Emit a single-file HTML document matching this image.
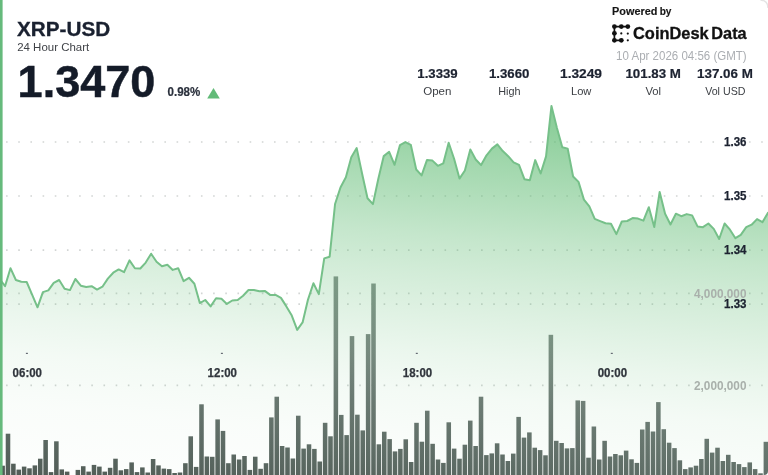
<!DOCTYPE html>
<html><head><meta charset="utf-8"><title>XRP-USD</title>
<style>
html,body{margin:0;padding:0;background:#fff;}
body{width:768px;height:475px;overflow:hidden;font-family:"Liberation Sans",sans-serif;}
svg{display:block;filter:blur(0.5px);font-family:"Liberation Sans",sans-serif;}
</style></head>
<body>
<svg width="788" height="495" viewBox="-10 -10 788 495" style="margin:-10px 0 0 -10px">
<defs>
<linearGradient id="ag" gradientUnits="userSpaceOnUse" x1="551.0" y1="98.3" x2="509.3" y2="531.3">
<stop offset="0.0000" stop-color="#5cba70" stop-opacity="0.76"/>
<stop offset="0.0828" stop-color="#5cba70" stop-opacity="0.675"/>
<stop offset="0.1724" stop-color="#5cba70" stop-opacity="0.56"/>
<stop offset="0.2552" stop-color="#5cba70" stop-opacity="0.46"/>
<stop offset="0.3379" stop-color="#5cba70" stop-opacity="0.36"/>
<stop offset="0.4253" stop-color="#5cba70" stop-opacity="0.275"/>
<stop offset="0.5195" stop-color="#5cba70" stop-opacity="0.195"/>
<stop offset="0.6069" stop-color="#5cba70" stop-opacity="0.125"/>
<stop offset="0.6989" stop-color="#5cba70" stop-opacity="0.07"/>
<stop offset="0.8161" stop-color="#5cba70" stop-opacity="0.035"/>
<stop offset="1.0000" stop-color="#5cba70" stop-opacity="0.01"/>
</linearGradient>
<linearGradient id="bg" gradientUnits="userSpaceOnUse" x1="336.0" y1="273.5" x2="314.0" y2="502.4">
<stop offset="0.0000" stop-color="rgb(134, 144, 140)"/>
<stop offset="0.0609" stop-color="rgb(132, 142, 138)"/>
<stop offset="0.3217" stop-color="rgb(122, 132, 128)"/>
<stop offset="0.5478" stop-color="rgb(106, 117, 113)"/>
<stop offset="0.7826" stop-color="rgb(93, 105, 100)"/>
<stop offset="1.0000" stop-color="rgb(82, 92, 87)"/>
</linearGradient>
</defs>
<rect x="-10" y="-10" width="788" height="495" fill="#ffffff"/>
<!-- grid -->
<g stroke="#d2d5d4" stroke-width="1.7" stroke-dasharray="1.6 10.58" fill="none">
<line x1="6.04" x2="716" y1="142.0" y2="142.0"/><line x1="749.0" x2="780" y1="142.0" y2="142.0"/>
<line x1="6.04" x2="716" y1="196.0" y2="196.0"/><line x1="749.0" x2="780" y1="196.0" y2="196.0"/>
<line x1="6.04" x2="716" y1="250.1" y2="250.1"/><line x1="749.0" x2="780" y1="250.1" y2="250.1"/>
<line x1="6.04" x2="716" y1="304.1" y2="304.1"/><line x1="749.0" x2="780" y1="304.1" y2="304.1"/>
<line x1="6.04" x2="691.5" y1="293.4" y2="293.4"/><line x1="749.0" x2="780" y1="293.4" y2="293.4"/>
<line x1="6.04" x2="691.5" y1="385.4" y2="385.4"/><line x1="749.0" x2="780" y1="385.4" y2="385.4"/>
</g>
<!-- volume bars -->
<g fill="url(#bg)">
<rect x="0.35" y="465.70" width="4.55" height="21.30"/>
<rect x="5.72" y="433.70" width="4.55" height="53.30"/>
<rect x="11.10" y="463.70" width="4.55" height="23.30"/>
<rect x="16.48" y="469.60" width="4.55" height="17.40"/>
<rect x="21.85" y="466.60" width="4.55" height="20.40"/>
<rect x="27.23" y="468.30" width="4.55" height="18.70"/>
<rect x="32.60" y="465.40" width="4.55" height="21.60"/>
<rect x="37.98" y="458.70" width="4.55" height="28.30"/>
<rect x="43.35" y="440.00" width="4.55" height="47.00"/>
<rect x="48.73" y="472.10" width="4.55" height="14.90"/>
<rect x="54.10" y="441.30" width="4.55" height="45.70"/>
<rect x="59.48" y="469.40" width="4.55" height="17.60"/>
<rect x="64.85" y="471.60" width="4.55" height="15.40"/>
<rect x="75.60" y="469.90" width="4.55" height="17.10"/>
<rect x="80.97" y="466.20" width="4.55" height="20.80"/>
<rect x="86.35" y="471.60" width="4.55" height="15.40"/>
<rect x="91.72" y="464.90" width="4.55" height="22.10"/>
<rect x="97.10" y="466.60" width="4.55" height="20.40"/>
<rect x="102.47" y="471.60" width="4.55" height="15.40"/>
<rect x="107.85" y="467.80" width="4.55" height="19.20"/>
<rect x="113.22" y="458.70" width="4.55" height="28.30"/>
<rect x="118.60" y="470.30" width="4.55" height="16.70"/>
<rect x="123.97" y="469.10" width="4.55" height="17.90"/>
<rect x="129.35" y="462.40" width="4.55" height="24.60"/>
<rect x="134.72" y="472.10" width="4.55" height="14.90"/>
<rect x="140.10" y="467.40" width="4.55" height="19.60"/>
<rect x="145.47" y="472.50" width="4.55" height="14.50"/>
<rect x="150.85" y="459.00" width="4.55" height="28.00"/>
<rect x="156.22" y="465.40" width="4.55" height="21.60"/>
<rect x="161.60" y="468.60" width="4.55" height="18.40"/>
<rect x="166.97" y="469.10" width="4.55" height="17.90"/>
<rect x="172.35" y="473.00" width="4.55" height="14.00"/>
<rect x="177.72" y="472.50" width="4.55" height="14.50"/>
<rect x="183.10" y="463.20" width="4.55" height="23.80"/>
<rect x="188.47" y="436.30" width="4.55" height="50.70"/>
<rect x="193.85" y="466.90" width="4.55" height="20.10"/>
<rect x="199.22" y="404.30" width="4.55" height="82.70"/>
<rect x="204.60" y="456.50" width="4.55" height="30.50"/>
<rect x="209.97" y="456.80" width="4.55" height="30.20"/>
<rect x="215.35" y="419.40" width="4.55" height="67.60"/>
<rect x="220.72" y="430.90" width="4.55" height="56.10"/>
<rect x="226.10" y="463.20" width="4.55" height="23.80"/>
<rect x="231.47" y="454.50" width="4.55" height="32.50"/>
<rect x="236.85" y="459.50" width="4.55" height="27.50"/>
<rect x="242.22" y="456.00" width="4.55" height="31.00"/>
<rect x="247.60" y="469.90" width="4.55" height="17.10"/>
<rect x="252.97" y="456.70" width="4.55" height="30.30"/>
<rect x="258.35" y="468.80" width="4.55" height="18.20"/>
<rect x="263.73" y="463.20" width="4.55" height="23.80"/>
<rect x="269.10" y="417.40" width="4.55" height="69.60"/>
<rect x="274.48" y="396.70" width="4.55" height="90.30"/>
<rect x="279.85" y="446.00" width="4.55" height="41.00"/>
<rect x="285.23" y="447.50" width="4.55" height="39.50"/>
<rect x="290.60" y="458.50" width="4.55" height="28.50"/>
<rect x="295.98" y="415.70" width="4.55" height="71.30"/>
<rect x="301.35" y="448.60" width="4.55" height="38.40"/>
<rect x="306.73" y="444.30" width="4.55" height="42.70"/>
<rect x="312.10" y="448.90" width="4.55" height="38.10"/>
<rect x="317.48" y="461.50" width="4.55" height="25.50"/>
<rect x="322.85" y="422.80" width="4.55" height="64.20"/>
<rect x="328.23" y="436.30" width="4.55" height="50.70"/>
<rect x="333.60" y="276.40" width="4.55" height="210.60"/>
<rect x="338.98" y="414.90" width="4.55" height="72.10"/>
<rect x="344.35" y="435.10" width="4.55" height="51.90"/>
<rect x="349.73" y="336.10" width="4.55" height="150.90"/>
<rect x="355.10" y="414.70" width="4.55" height="72.30"/>
<rect x="360.48" y="430.40" width="4.55" height="56.60"/>
<rect x="365.85" y="334.10" width="4.55" height="152.90"/>
<rect x="371.23" y="283.50" width="4.55" height="203.50"/>
<rect x="376.60" y="444.30" width="4.55" height="42.70"/>
<rect x="381.98" y="431.70" width="4.55" height="55.30"/>
<rect x="387.35" y="439.10" width="4.55" height="47.90"/>
<rect x="392.73" y="451.40" width="4.55" height="35.60"/>
<rect x="398.10" y="448.90" width="4.55" height="38.10"/>
<rect x="403.48" y="439.30" width="4.55" height="47.70"/>
<rect x="408.85" y="462.00" width="4.55" height="25.00"/>
<rect x="414.23" y="422.80" width="4.55" height="64.20"/>
<rect x="419.60" y="441.70" width="4.55" height="45.30"/>
<rect x="424.98" y="410.70" width="4.55" height="76.30"/>
<rect x="430.35" y="443.80" width="4.55" height="43.20"/>
<rect x="435.73" y="459.50" width="4.55" height="27.50"/>
<rect x="441.10" y="462.90" width="4.55" height="24.10"/>
<rect x="446.48" y="422.30" width="4.55" height="64.70"/>
<rect x="451.85" y="448.60" width="4.55" height="38.40"/>
<rect x="457.23" y="458.70" width="4.55" height="28.30"/>
<rect x="462.60" y="444.70" width="4.55" height="42.30"/>
<rect x="467.98" y="420.60" width="4.55" height="66.40"/>
<rect x="473.35" y="446.00" width="4.55" height="41.00"/>
<rect x="478.73" y="396.70" width="4.55" height="90.30"/>
<rect x="484.10" y="455.10" width="4.55" height="31.90"/>
<rect x="489.48" y="453.40" width="4.55" height="33.60"/>
<rect x="494.85" y="443.30" width="4.55" height="43.70"/>
<rect x="500.23" y="454.50" width="4.55" height="32.50"/>
<rect x="505.60" y="461.00" width="4.55" height="26.00"/>
<rect x="510.98" y="453.60" width="4.55" height="33.40"/>
<rect x="516.35" y="416.90" width="4.55" height="70.10"/>
<rect x="521.73" y="437.60" width="4.55" height="49.40"/>
<rect x="527.10" y="432.40" width="4.55" height="54.60"/>
<rect x="532.48" y="447.70" width="4.55" height="39.30"/>
<rect x="537.85" y="450.10" width="4.55" height="36.90"/>
<rect x="543.23" y="455.30" width="4.55" height="31.70"/>
<rect x="548.60" y="334.80" width="4.55" height="152.20"/>
<rect x="553.98" y="440.80" width="4.55" height="46.20"/>
<rect x="559.35" y="443.00" width="4.55" height="44.00"/>
<rect x="564.73" y="448.40" width="4.55" height="38.60"/>
<rect x="570.10" y="448.10" width="4.55" height="38.90"/>
<rect x="575.48" y="400.40" width="4.55" height="86.60"/>
<rect x="580.85" y="400.90" width="4.55" height="86.10"/>
<rect x="586.23" y="457.70" width="4.55" height="29.30"/>
<rect x="591.60" y="426.50" width="4.55" height="60.50"/>
<rect x="596.98" y="459.50" width="4.55" height="27.50"/>
<rect x="602.35" y="440.80" width="4.55" height="46.20"/>
<rect x="607.73" y="456.50" width="4.55" height="30.50"/>
<rect x="613.10" y="454.00" width="4.55" height="33.00"/>
<rect x="618.48" y="455.30" width="4.55" height="31.70"/>
<rect x="623.85" y="450.60" width="4.55" height="36.40"/>
<rect x="629.23" y="459.30" width="4.55" height="27.70"/>
<rect x="634.60" y="462.90" width="4.55" height="24.10"/>
<rect x="639.98" y="429.50" width="4.55" height="57.50"/>
<rect x="645.35" y="421.90" width="4.55" height="65.10"/>
<rect x="650.73" y="431.50" width="4.55" height="55.50"/>
<rect x="656.10" y="402.10" width="4.55" height="84.90"/>
<rect x="661.48" y="429.20" width="4.55" height="57.80"/>
<rect x="666.85" y="442.70" width="4.55" height="44.30"/>
<rect x="672.23" y="448.10" width="4.55" height="38.90"/>
<rect x="677.60" y="460.30" width="4.55" height="26.70"/>
<rect x="682.98" y="469.10" width="4.55" height="17.90"/>
<rect x="688.35" y="467.40" width="4.55" height="19.60"/>
<rect x="693.73" y="465.70" width="4.55" height="21.30"/>
<rect x="699.10" y="459.00" width="4.55" height="28.00"/>
<rect x="704.48" y="438.80" width="4.55" height="48.20"/>
<rect x="709.85" y="452.60" width="4.55" height="34.40"/>
<rect x="715.23" y="447.70" width="4.55" height="39.30"/>
<rect x="720.60" y="461.00" width="4.55" height="26.00"/>
<rect x="725.98" y="454.80" width="4.55" height="32.20"/>
<rect x="731.35" y="462.00" width="4.55" height="25.00"/>
<rect x="736.73" y="464.10" width="4.55" height="22.90"/>
<rect x="742.10" y="467.10" width="4.55" height="19.90"/>
<rect x="747.48" y="462.40" width="4.55" height="24.60"/>
<rect x="752.85" y="469.10" width="4.55" height="17.90"/>
<rect x="758.23" y="473.30" width="4.55" height="13.70"/>
<rect x="763.60" y="441.80" width="4.55" height="45.20"/>
</g>
<!-- area -->
<path d="M-0.36 279.00 L5.05 286.20 L10.46 268.20 L15.87 280.00 L21.28 281.70 L26.69 282.00 L32.10 294.60 L37.51 307.30 L42.92 292.10 L48.33 290.40 L53.74 282.80 L59.15 280.00 L64.56 288.70 L69.97 290.10 L75.38 279.00 L80.79 285.70 L86.20 287.00 L91.61 286.20 L97.02 289.60 L102.43 286.70 L107.84 278.60 L113.25 272.70 L118.66 269.40 L124.07 272.20 L129.48 260.40 L134.89 268.20 L140.30 268.50 L145.71 262.60 L151.12 253.70 L156.53 261.80 L161.94 266.30 L167.35 264.80 L172.76 269.90 L178.17 268.20 L183.58 281.20 L188.99 277.80 L194.40 283.70 L199.81 303.10 L205.22 300.00 L210.63 306.40 L216.04 298.30 L221.45 298.80 L226.86 303.90 L232.27 300.50 L237.68 300.00 L243.09 295.70 L248.50 290.00 L253.91 290.00 L259.32 291.20 L264.73 290.90 L270.14 294.90 L275.55 294.90 L280.96 297.90 L286.37 306.40 L291.78 315.60 L297.19 329.90 L302.60 322.40 L308.01 299.60 L313.42 283.30 L318.83 294.10 L324.24 258.40 L329.65 256.70 L335.06 204.00 L340.47 187.50 L345.88 177.30 L351.29 157.20 L356.70 148.10 L362.11 173.70 L367.52 198.20 L372.93 204.10 L378.34 178.80 L383.75 156.10 L389.16 151.80 L394.57 164.80 L399.98 145.10 L405.39 142.10 L410.80 144.80 L416.21 169.50 L421.62 175.40 L427.03 159.90 L432.44 160.60 L437.85 165.80 L443.26 163.40 L448.67 142.70 L454.08 158.70 L459.49 178.60 L464.90 170.50 L470.31 149.40 L475.72 159.50 L481.13 165.10 L486.54 155.30 L491.95 148.60 L497.36 144.40 L502.77 151.10 L508.18 156.20 L513.59 162.40 L519.00 164.90 L524.41 179.20 L529.82 180.20 L535.23 160.10 L540.64 173.50 L546.05 156.40 L551.46 105.90 L556.87 127.80 L562.28 147.20 L567.69 148.60 L573.10 176.50 L578.51 181.90 L583.92 199.60 L589.33 206.30 L594.74 218.90 L600.15 221.10 L605.56 223.20 L610.97 223.70 L616.38 234.10 L621.79 221.50 L627.20 221.00 L632.61 218.10 L638.02 218.60 L643.43 220.60 L648.84 207.20 L654.25 227.00 L659.66 191.90 L665.07 213.80 L670.48 224.50 L675.89 213.70 L681.30 216.20 L686.71 214.10 L692.12 215.40 L697.53 226.40 L702.94 227.20 L708.35 223.50 L713.76 228.90 L719.17 239.00 L724.58 223.50 L729.99 229.70 L735.40 238.20 L740.81 234.80 L746.22 227.20 L751.63 224.70 L757.04 219.10 L762.45 222.20 L767.86 212.90 L780 212.90 L780 490 L-10 490 L-10 279.00 Z" fill="url(#ag)"/>
<path d="M-0.36 279.00 L5.05 286.20 L10.46 268.20 L15.87 280.00 L21.28 281.70 L26.69 282.00 L32.10 294.60 L37.51 307.30 L42.92 292.10 L48.33 290.40 L53.74 282.80 L59.15 280.00 L64.56 288.70 L69.97 290.10 L75.38 279.00 L80.79 285.70 L86.20 287.00 L91.61 286.20 L97.02 289.60 L102.43 286.70 L107.84 278.60 L113.25 272.70 L118.66 269.40 L124.07 272.20 L129.48 260.40 L134.89 268.20 L140.30 268.50 L145.71 262.60 L151.12 253.70 L156.53 261.80 L161.94 266.30 L167.35 264.80 L172.76 269.90 L178.17 268.20 L183.58 281.20 L188.99 277.80 L194.40 283.70 L199.81 303.10 L205.22 300.00 L210.63 306.40 L216.04 298.30 L221.45 298.80 L226.86 303.90 L232.27 300.50 L237.68 300.00 L243.09 295.70 L248.50 290.00 L253.91 290.00 L259.32 291.20 L264.73 290.90 L270.14 294.90 L275.55 294.90 L280.96 297.90 L286.37 306.40 L291.78 315.60 L297.19 329.90 L302.60 322.40 L308.01 299.60 L313.42 283.30 L318.83 294.10 L324.24 258.40 L329.65 256.70 L335.06 204.00 L340.47 187.50 L345.88 177.30 L351.29 157.20 L356.70 148.10 L362.11 173.70 L367.52 198.20 L372.93 204.10 L378.34 178.80 L383.75 156.10 L389.16 151.80 L394.57 164.80 L399.98 145.10 L405.39 142.10 L410.80 144.80 L416.21 169.50 L421.62 175.40 L427.03 159.90 L432.44 160.60 L437.85 165.80 L443.26 163.40 L448.67 142.70 L454.08 158.70 L459.49 178.60 L464.90 170.50 L470.31 149.40 L475.72 159.50 L481.13 165.10 L486.54 155.30 L491.95 148.60 L497.36 144.40 L502.77 151.10 L508.18 156.20 L513.59 162.40 L519.00 164.90 L524.41 179.20 L529.82 180.20 L535.23 160.10 L540.64 173.50 L546.05 156.40 L551.46 105.90 L556.87 127.80 L562.28 147.20 L567.69 148.60 L573.10 176.50 L578.51 181.90 L583.92 199.60 L589.33 206.30 L594.74 218.90 L600.15 221.10 L605.56 223.20 L610.97 223.70 L616.38 234.10 L621.79 221.50 L627.20 221.00 L632.61 218.10 L638.02 218.60 L643.43 220.60 L648.84 207.20 L654.25 227.00 L659.66 191.90 L665.07 213.80 L670.48 224.50 L675.89 213.70 L681.30 216.20 L686.71 214.10 L692.12 215.40 L697.53 226.40 L702.94 227.20 L708.35 223.50 L713.76 228.90 L719.17 239.00 L724.58 223.50 L729.99 229.70 L735.40 238.20 L740.81 234.80 L746.22 227.20 L751.63 224.70 L757.04 219.10 L762.45 222.20 L767.86 212.90" fill="none" stroke="#76c089" stroke-width="2.0" stroke-linejoin="round" stroke-linecap="round"/>
<!-- left border -->
<rect x="-10" y="-10" width="12.6" height="495" fill="#66ba7c"/>
<!-- axis labels -->
<g font-weight="bold" font-size="12" fill="#1c2230" stroke="#1c2230" stroke-width="0.25" text-anchor="end">
<text x="746.5" y="146.1" textLength="22.5" lengthAdjust="spacingAndGlyphs">1.36</text>
<text x="746.5" y="200.0" textLength="22.5" lengthAdjust="spacingAndGlyphs">1.35</text>
<text x="746.5" y="254.1" textLength="22.5" lengthAdjust="spacingAndGlyphs">1.34</text>
<text x="746.5" y="308.2" textLength="22.5" lengthAdjust="spacingAndGlyphs">1.33</text>
</g>
<g font-weight="bold" font-size="12" fill="#a9b0ab" text-anchor="end">
<text x="746.5" y="297.6" textLength="52.5" lengthAdjust="spacingAndGlyphs">4,000,000</text>
<text x="746.5" y="389.8" textLength="52.5" lengthAdjust="spacingAndGlyphs">2,000,000</text>
</g>
<g font-weight="bold" font-size="12.2" fill="#30353c" stroke="#30353c" stroke-width="0.25" text-anchor="middle">
<text x="27.3" y="376.8" textLength="29.4" lengthAdjust="spacingAndGlyphs">06:00</text>
<text x="222.3" y="376.8" textLength="29.4" lengthAdjust="spacingAndGlyphs">12:00</text>
<text x="417.5" y="376.8" textLength="29.4" lengthAdjust="spacingAndGlyphs">18:00</text>
<text x="612.4" y="376.8" textLength="29.4" lengthAdjust="spacingAndGlyphs">00:00</text>
</g>
<g fill="#666b74">
<rect x="25.9" y="352.8" width="2.0" height="1.2"/>
<rect x="220.9" y="352.8" width="2.0" height="1.2"/>
<rect x="415.8" y="352.8" width="2.0" height="1.2"/>
<rect x="610.8" y="352.8" width="2.0" height="1.2"/>
</g>
<!-- header left -->
<text x="16.9" y="35.5" font-weight="bold" font-size="19.9" fill="#1a2130" stroke="#1a2130" stroke-width="0.3" textLength="93.3" lengthAdjust="spacingAndGlyphs">XRP-USD</text>
<text x="17.2" y="50.7" font-size="11.1" fill="#404348" textLength="72" lengthAdjust="spacingAndGlyphs">24 Hour Chart</text>
<text x="17.6" y="96.6" font-weight="bold" font-size="44.6" fill="#141b28" stroke="#141b28" stroke-width="0.5" textLength="137.8" lengthAdjust="spacingAndGlyphs">1.3470</text>
<text x="167.6" y="95.9" font-weight="bold" font-size="12" fill="#2a303c" stroke="#2a303c" stroke-width="0.2" textLength="32.7" lengthAdjust="spacingAndGlyphs">0.98%</text>
<path d="M207.2 98.4 L213.5 88 L219.8 98.4 Z" fill="#62bb78"/>
<!-- header right -->
<text x="612.1" y="15.2" font-weight="bold" font-size="11.5" fill="#151515" stroke="#151515" stroke-width="0.15" textLength="45.3" lengthAdjust="spacingAndGlyphs">Powered</text>
<text x="659.7" y="15.2" font-weight="bold" font-size="11.5" fill="#151515" stroke="#151515" stroke-width="0.15" textLength="11.8" lengthAdjust="spacingAndGlyphs">by</text>
<g fill="#111" stroke="#111">
<path d="M614.4 26.6 H627.8 M614.4 26.6 V40.3 H621.3" fill="none" stroke-width="1.7" stroke-linecap="round" stroke-linejoin="round"/>
<g stroke="none">
<circle cx="614.4" cy="26.6" r="2.4"/><circle cx="621.3" cy="26.6" r="2.4"/><circle cx="627.8" cy="26.6" r="2.4"/>
<circle cx="614.4" cy="33.3" r="2.4"/><circle cx="614.4" cy="40.3" r="2.4"/><circle cx="621.3" cy="40.3" r="2.4"/>
<circle cx="621.3" cy="33.4" r="1.1"/><circle cx="627.8" cy="33.6" r="1.1"/><circle cx="627.8" cy="40.3" r="1.1"/>
</g>
</g>
<text x="633" y="39.1" font-weight="bold" font-size="16" fill="#111" stroke="#111" stroke-width="0.3" textLength="75.7" lengthAdjust="spacingAndGlyphs">CoinDesk</text>
<text x="711.3" y="39.1" font-weight="bold" font-size="16" fill="#111" stroke="#111" stroke-width="0.3" textLength="35.4" lengthAdjust="spacingAndGlyphs">Data</text>
<text x="616.1" y="59.8" font-size="12" fill="#abaeb2" textLength="130.6" lengthAdjust="spacingAndGlyphs">10 Apr 2026 04:56 (GMT)</text>
<!-- stats -->
<g font-weight="bold" font-size="12.4" fill="#1c2230" stroke="#1c2230" stroke-width="0.2" text-anchor="middle">
<text x="437.5" y="78.4" textLength="40.3" lengthAdjust="spacingAndGlyphs">1.3339</text>
<text x="509.2" y="78.4" textLength="40.5" lengthAdjust="spacingAndGlyphs">1.3660</text>
<text x="581" y="78.4" textLength="42" lengthAdjust="spacingAndGlyphs">1.3249</text>
<text x="653.2" y="78.4" textLength="55.5" lengthAdjust="spacingAndGlyphs">101.83 M</text>
<text x="724.9" y="78.4" textLength="55.8" lengthAdjust="spacingAndGlyphs">137.06 M</text>
</g>
<g font-size="11.2" fill="#3d4045" text-anchor="middle">
<text x="437.3" y="94.8" textLength="28.2" lengthAdjust="spacingAndGlyphs">Open</text>
<text x="509.3" y="94.8" textLength="22.3" lengthAdjust="spacingAndGlyphs">High</text>
<text x="581.2" y="94.8" textLength="20.5" lengthAdjust="spacingAndGlyphs">Low</text>
<text x="653.3" y="94.8" textLength="15.7" lengthAdjust="spacingAndGlyphs">Vol</text>
<text x="725.3" y="94.8" textLength="40.3" lengthAdjust="spacingAndGlyphs">Vol USD</text>
</g>
<!-- corners -->
<path d="M760.5 0 Q768 0.5 768 8" fill="none" stroke="#e4e4e4" stroke-width="1.5"/>
<path d="M768 471 Q768 475 764 475 L768 475 Z" fill="#fff"/>
</svg>
</body></html>
